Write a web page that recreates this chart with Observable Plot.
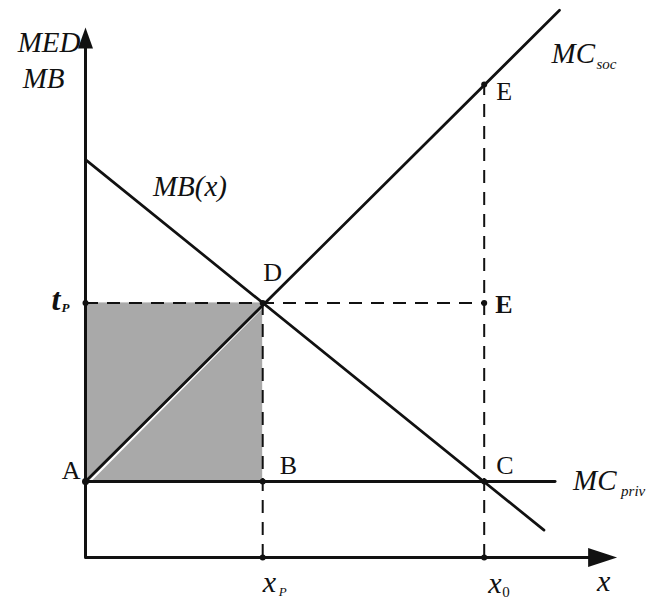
<!DOCTYPE html>
<html>
<head>
<meta charset="utf-8">
<script src="https://cdn.jsdelivr.net/npm/d3@7"></script>
<script src="https://cdn.jsdelivr.net/npm/@observablehq/plot@0.6"></script>
<style>
  html, body { margin: 0; padding: 0; background: #fff; }
  #chart svg { display: block; overflow: visible; }
</style>
</head>
<body>
<div id="chart"></div>
<script>
// ---- values (arbitrary units) ----
const xP = 4;            // private optimum quantity
const x0 = 9;            // quantity where MB = MC_priv
const mcPrivLevel = 2;   // MC_priv (horizontal)
const tP = 6.7;          // tax / price level at D
const eTop = 12.45;      // MC_soc at x0 (point E)

const mbX = [0, 10.35];
const mbY = [10.47, 0.72];
const socX = [0, 10.7];
const socY = [2, 14.4];
const privX = [0, 10.6];
const privY = [2, 2];

const axisXEnd = 12.0;
const axisYEnd = 13.95;

const pointNames = ["A", "B", "C", "D", "E", "E2", "tP", "xP", "x0"];
const pointX = [0, 4, 9, 4, 9, 9, 0, 4, 9];
const pointY = [2, 2, 2, 6.7, 12.45, 6.7, 6.7, 0, 0];

// ---- derived tables ----
const toLine = (xs, ys) => xs.map((x, i) => ({x, y: ys[i]}));
const points = pointNames.map((n, i) => ({name: n, x: pointX[i], y: pointY[i]}));
const P = n => points.find(p => p.name === n);

const serif = "Liberation Serif, Times New Roman, serif";
const ink = "#111";

// filled arrowhead with tip at origin, pointing right
function arrowHead(L, W) {
  return {draw(ctx) { ctx.moveTo(0, 0); ctx.lineTo(-L, -W / 2); ctx.lineTo(-L, W / 2); ctx.closePath(); }};
}

function label(txt, anchorPt, opts) {
  return Plot.text([txt], {
    x: () => anchorPt.x, y: () => anchorPt.y, text: d => d,
    fontFamily: serif, fill: ink, lineAnchor: "bottom", ...opts
  });
}

const A = P("A"), B = P("B"), C = P("C"), D = P("D"), E = P("E"), E2 = P("E2"),
      TP = P("tP"), XP = P("xP"), X0 = P("x0");
const yTop = {x: 0, y: axisYEnd};
const xEnd = {x: axisXEnd, y: 0};
const mbAnchor = {x: 1.5, y: mbY[0] + (mbY[1] - mbY[0]) * 1.5 / mbX[1]};
const privEnd = {x: privX[1], y: privY[1]};
const socEnd = {x: socX[1], y: socY[1]};

const chart = Plot.plot({
  width: 647,
  height: 598,
  marginLeft: 85,
  marginRight: 0,
  marginTop: 0,
  marginBottom: 41,
  x: {domain: [0, 562 / 44.3], axis: null},
  y: {domain: [0, 557 / 38], axis: null},
  style: {background: "#fff", overflow: "visible"},
  marks: [
    // shaded area
    Plot.rect([0], {x1: () => 0, x2: () => xP, y1: () => mcPrivLevel, y2: () => tP, fill: "#a9a9a9"}),
    Plot.line([{x: 0, y: mcPrivLevel}, {x: xP, y: tP}], {x: "x", y: "y", stroke: "#fff", strokeWidth: 2, dx: 3, dy: 1}),
    // dashed guides
    Plot.ruleY([tP], {x1: () => 0, x2: () => x0, stroke: ink, strokeWidth: 2, strokeDasharray: "13,9"}),
    Plot.ruleX([xP], {y1: () => 0, y2: () => tP, stroke: ink, strokeWidth: 2, strokeDasharray: "13,9"}),
    Plot.ruleX([x0], {y1: () => 0, y2: () => eTop, stroke: ink, strokeWidth: 2, strokeDasharray: "13,9"}),
    // curves
    Plot.line(toLine(mbX, mbY), {x: "x", y: "y", stroke: ink, strokeWidth: 2.7}),
    Plot.line(toLine(privX, privY), {x: "x", y: "y", stroke: ink, strokeWidth: 2.9}),
    Plot.line(toLine(socX, socY), {x: "x", y: "y", stroke: ink, strokeWidth: 2.7}),
    // axes
    Plot.line([{x: 0, y: axisYEnd - 0.3}, {x: 0, y: 0}, {x: axisXEnd - 0.4, y: 0}], {x: "x", y: "y", stroke: ink, strokeWidth: 3}),
    Plot.dot([xEnd], {x: "x", y: "y", symbol: arrowHead(29, 19), fill: ink, stroke: null}),
    Plot.dot([yTop], {x: "x", y: "y", symbol: arrowHead(21, 15), fill: ink, stroke: null, rotate: -90}),
    // points
    Plot.dot(points.filter(p => p.name !== "A"), {x: "x", y: "y", r: 3, fill: ink, stroke: null}),
    Plot.dot([A], {x: "x", y: "y", r: 3.5, fill: ink, stroke: null}),
    // axis labels
    label("MED", yTop, {textAnchor: "end", dx: -5, dy: 25, fontSize: 29, fontStyle: "italic"}),
    label("MB", yTop, {textAnchor: "end", dx: -21, dy: 61, fontSize: 29, fontStyle: "italic"}),
    label("x", xEnd, {textAnchor: "start", dx: -20, dy: 33, fontSize: 30, fontStyle: "italic"}),
    // curve labels
    label("MB(x)", mbAnchor, {textAnchor: "start", dx: 1, dy: -17, fontSize: 29, fontStyle: "italic"}),
    label("MC", socEnd, {textAnchor: "start", dx: -8, dy: 53, fontSize: 29, fontStyle: "italic"}),
    label("soc", socEnd, {textAnchor: "start", dx: 37, dy: 59, fontSize: 15, fontStyle: "italic"}),
    label("MC", privEnd, {textAnchor: "start", dx: 18, dy: 8, fontSize: 29, fontStyle: "italic"}),
    label("priv", privEnd, {textAnchor: "start", dx: 66, dy: 14, fontSize: 15, fontStyle: "italic"}),
    // point labels
    label("A", A, {textAnchor: "end", dx: -5, dy: -3, fontSize: 26}),
    label("B", B, {textAnchor: "start", dx: 17, dy: -8, fontSize: 26}),
    label("C", C, {textAnchor: "start", dx: 12, dy: -8, fontSize: 26}),
    label("D", D, {textAnchor: "middle", dx: 10, dy: -22, fontSize: 26}),
    label("E", E, {textAnchor: "start", dx: 12, dy: 16, fontSize: 26}),
    label("E", E2, {textAnchor: "start", dx: 11, dy: 10, fontSize: 26, fontWeight: "bold"}),
    label("t", TP, {textAnchor: "end", dx: -25, dy: 7, fontSize: 32, fontStyle: "italic", fontWeight: "bold"}),
    label("P", TP, {textAnchor: "start", dx: -24, dy: 9, fontSize: 13, fontStyle: "italic", fontWeight: "bold"}),
    label("x", XP, {textAnchor: "start", dx: 0, dy: 34, fontSize: 30, fontStyle: "italic"}),
    label("P", XP, {textAnchor: "start", dx: 16, dy: 38, fontSize: 13, fontStyle: "italic"}),
    label("x", X0, {textAnchor: "start", dx: 4, dy: 35, fontSize: 30, fontStyle: "italic"}),
    label("0", X0, {textAnchor: "start", dx: 18, dy: 39, fontSize: 15})
  ]
});
document.getElementById("chart").appendChild(chart);
</script>
</body>
</html>
